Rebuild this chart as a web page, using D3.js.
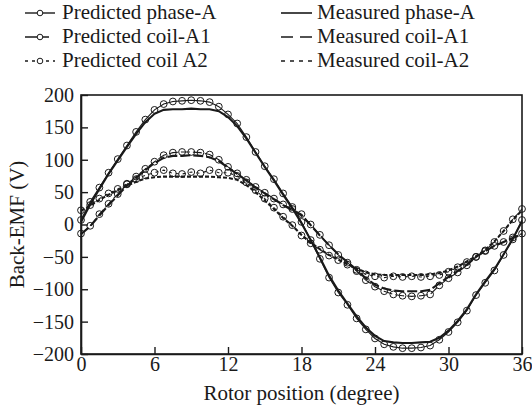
<!DOCTYPE html>
<html>
<head>
<meta charset="utf-8">
<script src="https://cdn.jsdelivr.net/npm/d3@7"></script>
<style>
  body { margin: 0; background: #fff; }
  svg { display: block; }
  text { font-family: "Liberation Serif", "Times New Roman", serif; fill: #1a1a1a; }
</style>
</head>
<body>
<svg width="532" height="413"></svg>
<script>
// rotor position samples (degree)
const position = [0, 0.75, 1.5, 2.25, 3, 3.75, 4.5, 5.25, 6, 6.75, 7.5, 8.25, 9, 9.75, 10.5, 11.25,
  12, 12.75, 13.5, 14.25, 15, 15.75, 16.5, 17.25, 18, 18.75, 19.5, 20.25, 21, 21.75, 22.5, 23.25,
  24, 24.75, 25.5, 26.25, 27, 27.75, 28.5, 29.25, 30, 30.75, 31.5, 32.25, 33, 33.75, 34.5, 35.25, 36];

const predPhaseA = [7, 35, 57, 80, 101, 122, 143, 162, 177, 186, 190, 191, 192, 191, 189, 182,
  170, 156, 135, 112, 90, 70, 48, 27, 4, -24, -53, -82, -105, -124, -145, -162,
  -176, -185, -189, -191, -191, -190, -187, -178, -166, -151, -133, -109, -90, -71, -47, -23, 7];
const measPhaseA = [4, 31, 55, 78, 99, 120, 140, 158, 171, 177, 178, 178, 179, 178, 178, 175,
  166, 152, 133, 111, 89, 68, 46, 25, 2, -24, -51, -79, -102, -122, -142, -159,
  -172, -180, -182, -183, -183, -182, -181, -175, -164, -149, -131, -108, -88, -69, -46, -22, 5];

const predCoilA1 = [-14, -2, 16, 32, 47, 62, 74, 86, 97, 107, 111, 112, 112, 111, 108, 100,
  89, 79, 69, 58, 49, 40, 31, 24, 16, 0, -16, -32, -47, -59, -72, -86,
  -96, -103, -108, -110, -111, -110, -108, -94, -83, -74, -63, -50, -41, -33, -27, -20, -14];
const measCoilA1 = [-15, -3, 14, 30, 45, 60, 72, 84, 95, 103, 106, 106, 107, 106, 104, 98,
  88, 78, 68, 57, 48, 39, 30, 22, 14, -1, -17, -32, -46, -58, -70, -83,
  -93, -99, -102, -103, -103, -103, -101, -91, -81, -72, -62, -50, -41, -33, -27, -21, -15];

const predCoilA2 = [22, 30, 40, 48, 55, 63, 70, 76, 80, 84, 79, 78, 81, 79, 84, 80,
  80, 75, 65, 53, 40, 26, 12, -1, -17, -29, -39, -48, -55, -62, -70, -77,
  -80, -82, -80, -81, -80, -81, -80, -78, -73, -66, -58, -50, -40, -27, -10, 8, 24];
const measCoilA2 = [21, 29, 38, 46, 53, 60, 66, 71, 73, 74, 74, 74, 74, 74, 74, 73,
  72, 69, 61, 50, 37, 24, 10, -2, -16, -28, -38, -47, -54, -61, -68, -74,
  -77, -78, -78, -78, -78, -78, -77, -75, -71, -65, -57, -49, -39, -26, -10, 7, 22];

const xTicks = [0, 6, 12, 18, 24, 30, 36];
const yTicks = [-200, -150, -100, -50, 0, 50, 100, 150, 200];

const predicted = [
  { name: "Predicted phase-A", values: predPhaseA, dash: null },
  { name: "Predicted coil-A1", values: predCoilA1, dash: "9,3" },
  { name: "Predicted coil A2", values: predCoilA2, dash: "3,4" }
];
const measured = [
  { name: "Measured phase-A", values: measPhaseA, dash: null },
  { name: "Measured coil-A1", values: measCoilA1, dash: "10,3" },
  { name: "Measured coil-A2", values: measCoilA2, dash: "4,2" }
];

var svg = d3.select("svg"),
    plotLeft = 81, plotRight = 522, plotTop = 95, plotBottom = 354,
    ink = "#1a1a1a";

var x = d3.scaleLinear().domain([0, 36]).range([plotLeft, plotRight]),
    y = d3.scaleLinear().domain([-200, 200]).range([plotBottom, plotTop]);

var line = d3.line()
    .x(function(d, i) { return x(position[i]); })
    .y(function(d) { return y(d); });

// measured curves
measured.forEach(function(s) {
  svg.append("path")
     .attr("d", line(s.values))
     .attr("fill", "none")
     .attr("stroke", ink)
     .attr("stroke-width", 2.1)
     .attr("stroke-dasharray", s.dash);
});

// predicted curves with open circles
predicted.forEach(function(s) {
  svg.append("path")
     .attr("d", line(s.values))
     .attr("fill", "none")
     .attr("stroke", ink)
     .attr("stroke-width", 1.1)
     .attr("stroke-dasharray", s.dash);
  svg.append("g").selectAll("circle")
     .data(s.values)
     .enter().append("circle")
     .attr("cx", function(d, i) { return x(position[i]); })
     .attr("cy", function(d) { return y(d); })
     .attr("r", 3.4)
     .attr("fill", "none")
     .attr("stroke", ink)
     .attr("stroke-width", 1);
});

// frame
svg.append("rect")
   .attr("x", plotLeft).attr("y", plotTop)
   .attr("width", plotRight - plotLeft).attr("height", plotBottom - plotTop)
   .attr("fill", "none").attr("stroke", ink).attr("stroke-width", 1.6);

var xAxis = svg.append("g")
   .attr("transform", "translate(0," + plotBottom + ")")
   .call(d3.axisBottom(x).tickValues(xTicks).tickSizeInner(-7).tickSizeOuter(0).tickPadding(3));
var yAxis = svg.append("g")
   .attr("transform", "translate(" + plotLeft + ",0)")
   .call(d3.axisLeft(y).tickValues(yTicks).tickSizeInner(-7).tickSizeOuter(0).tickPadding(7));

[xAxis, yAxis].forEach(function(a) {
  a.select(".domain").attr("stroke", ink).attr("stroke-width", 1.6);
  a.selectAll(".tick line").attr("stroke", ink).attr("stroke-width", 1.4);
  a.selectAll(".tick text").attr("font-family", "Liberation Serif").attr("font-size", 20).attr("fill", ink);
});

svg.append("text")
   .attr("x", (plotLeft + plotRight) / 2).attr("y", 400)
   .attr("text-anchor", "middle").attr("font-size", 21)
   .text("Rotor position (degree)");

svg.append("text")
   .attr("transform", "translate(24," + ((plotTop + plotBottom) / 2) + ") rotate(-90)")
   .attr("text-anchor", "middle").attr("font-size", 21)
   .text("Back-EMF (V)");

// legend
var rowY = [13, 37, 61];
predicted.forEach(function(s, i) {
  svg.append("line")
     .attr("x1", 25).attr("x2", 55).attr("y1", rowY[i]).attr("y2", rowY[i])
     .attr("stroke", ink).attr("stroke-width", 1.4)
     .attr("stroke-dasharray", i == 0 ? null : (i == 1 ? "12,4,8" : "3,4"));
  svg.append("circle")
     .attr("cx", 40).attr("cy", rowY[i]).attr("r", 2.8)
     .attr("fill", "#fff").attr("stroke", ink).attr("stroke-width", 1);
  svg.append("text")
     .attr("x", 62).attr("y", rowY[i] + 6)
     .attr("font-size", 21)
     .text(s.name);
});
measured.forEach(function(s, i) {
  svg.append("line")
     .attr("x1", 281).attr("x2", 312).attr("y1", rowY[i]).attr("y2", rowY[i])
     .attr("stroke", ink).attr("stroke-width", 1.6)
     .attr("stroke-dasharray", i == 0 ? null : (i == 1 ? "12,7" : "4,5"));
  svg.append("text")
     .attr("x", 317).attr("y", rowY[i] + 6)
     .attr("font-size", 21)
     .text(s.name);
});
</script>
</body>
</html>
